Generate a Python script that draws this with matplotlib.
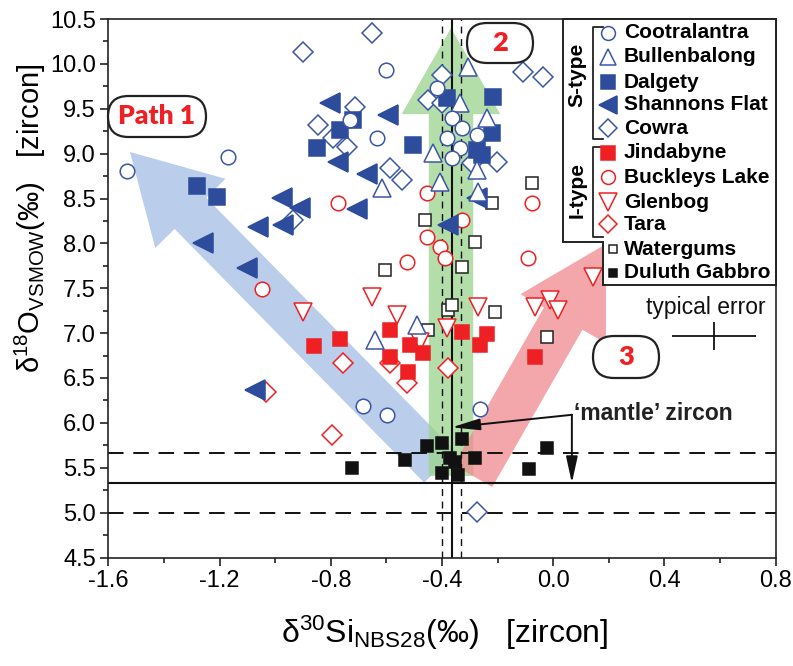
import matplotlib
matplotlib.use('Agg')
import matplotlib.pyplot as plt
import matplotlib.patches as mpatches
from matplotlib.ticker import MultipleLocator, FormatStrFormatter

plt.rcParams['font.family'] = ['Liberation Sans Narrow', 'Liberation Sans', 'DejaVu Sans']
plt.rcParams['axes.unicode_minus'] = False
plt.rcParams['mathtext.default'] = 'regular'

# ---------------- data ----------------
coot_x = [-1.534, -1.171, -0.602, -0.634, -0.732, -0.685, -0.599, -0.264, -0.365, -0.329, -0.275, -0.383, -0.336, -0.365, -0.419]
coot_y = [8.81, 8.96, 9.93, 9.17, 9.37, 6.19, 6.09, 6.16, 9.40, 9.29, 9.21, 9.17, 9.06, 8.95, 9.73]

bull_x = [-0.617, -0.642, -0.490, -0.307, -0.336, -0.239, -0.433, -0.275, -0.408, -0.271]
bull_y = [8.62, 6.92, 7.09, 9.97, 9.56, 9.40, 9.01, 8.82, 8.68, 8.57]

dalg_x = [-1.282, -1.210, -0.851, -0.721, -0.768, -0.505, -0.217, -0.220, -0.275, -0.257, -0.383]
dalg_y = [8.64, 8.52, 9.06, 9.37, 9.26, 9.10, 9.63, 9.23, 9.04, 8.98, 9.62]

shan_x = [-0.804, -0.595, -0.775, -0.670, -0.976, -0.912, -1.063, -0.973, -0.707, -1.261, -1.102, -1.074, -0.275, -0.379]
shan_y = [9.56, 9.43, 8.91, 8.77, 8.51, 8.39, 8.18, 8.20, 8.38, 8.00, 7.73, 6.37, 8.51, 8.20]

cowr_x = [-0.901, -0.653, -0.714, -0.847, -0.793, -0.742, -0.588, -0.937, -0.401, -0.451, -0.401, -0.109, -0.037, -0.293, -0.203, -0.544, -0.275]
cowr_y = [10.13, 10.34, 9.52, 9.32, 9.17, 9.07, 8.84, 8.26, 9.88, 9.60, 9.56, 9.91, 9.85, 8.90, 8.91, 8.71, 5.01]

jind_x = [-0.861, -0.768, -0.588, -0.588, -0.516, -0.469, -0.523, -0.329, -0.239, -0.264, -0.066]
jind_y = [6.86, 6.93, 7.03, 6.73, 6.87, 6.78, 6.57, 7.01, 6.99, 6.87, 6.73]

buck_x = [-0.775, -1.049, -0.455, -0.455, -0.408, -0.390, -0.329, -0.526, -0.077, -0.091]
buck_y = [8.45, 7.49, 8.56, 8.07, 7.96, 7.84, 8.26, 7.79, 8.45, 7.84]

glen_x = [-0.901, -0.653, -0.563, -0.480, -0.383, -0.271, -0.066, -0.012, 0.017, 0.143]
glen_y = [7.24, 7.40, 7.20, 6.90, 7.06, 7.29, 7.29, 7.37, 7.26, 7.63]

tara_x = [-0.757, -1.034, -0.796, -0.588, -0.526, -0.379]
tara_y = [6.67, 6.34, 5.86, 6.67, 6.44, 6.61]

watr_x = [-0.606, -0.462, -0.220, -0.077, -0.282, -0.329, -0.379, -0.365, -0.210, -0.451, -0.023]
watr_y = [7.70, 8.26, 8.45, 8.67, 8.02, 7.74, 7.26, 7.31, 7.24, 7.03, 6.96]

dulu_x = [-0.724, -0.534, -0.455, -0.401, -0.329, -0.372, -0.354, -0.401, -0.343, -0.282, -0.087, -0.023]
dulu_y = [5.50, 5.59, 5.74, 5.78, 5.82, 5.61, 5.56, 5.44, 5.42, 5.61, 5.49, 5.72]

# mantle zircon reference values
mantle_si = -0.365
mantle_si_lo, mantle_si_hi = -0.40, -0.33
mantle_o = 5.33
mantle_o_lo, mantle_o_hi = 5.0, 5.66

# typical error
err_x, err_y = 0.578, 6.97
err_dx, err_dy = 0.15, 0.155

x_ticks_major, x_ticks_minor = 0.4, 0.2
y_ticks_major, y_ticks_minor = 0.5, 0.25

BLUE = '#3a56a6'
BLUEF = '#2e4c9c'
RED = '#ee2024'
BLK = '#111111'

series = {
    'Cootralantra':  dict(x=coot_x, y=coot_y, marker='o', ms=10.5, mfc='white', mec=BLUE),
    'Bullenbalong':  dict(x=bull_x, y=bull_y, marker='^', ms=12.5, mfc='white', mec=BLUE),
    'Dalgety':       dict(x=dalg_x, y=dalg_y, marker='s', ms=11, mfc=BLUEF, mec=BLUEF),
    'Shannons Flat': dict(x=shan_x, y=shan_y, marker='<', ms=14, mfc=BLUEF, mec=BLUEF),
    'Cowra':         dict(x=cowr_x, y=cowr_y, marker='D', ms=10, mfc='white', mec=BLUE),
    'Jindabyne':     dict(x=jind_x, y=jind_y, marker='s', ms=10.5, mfc=RED, mec=RED),
    'Buckleys Lake': dict(x=buck_x, y=buck_y, marker='o', ms=10.5, mfc='white', mec=RED),
    'Glenbog':       dict(x=glen_x, y=glen_y, marker='v', ms=13, mfc='white', mec=RED),
    'Tara':          dict(x=tara_x, y=tara_y, marker='D', ms=10, mfc='white', mec=RED),
    'Watergums':     dict(x=watr_x, y=watr_y, marker='s', ms=9, mfc='white', mec='#222222'),
    'Duluth Gabbro': dict(x=dulu_x, y=dulu_y, marker='s', ms=8, mfc=BLK, mec=BLK),
}
legend_order = ['Cootralantra', 'Bullenbalong', 'Dalgety', 'Shannons Flat', 'Cowra',
                'Jindabyne', 'Buckleys Lake', 'Glenbog', 'Tara', 'Watergums', 'Duluth Gabbro']
draw_order = ['Duluth Gabbro', 'Watergums', 'Tara', 'Glenbog', 'Buckleys Lake', 'Jindabyne',
              'Cowra', 'Shannons Flat', 'Dalgety', 'Bullenbalong', 'Cootralantra']

# ---------------- figure ----------------
W, H = 793, 666
fig = plt.figure(figsize=(W / 100, H / 100), dpi=100)
AX_L, AX_R, AX_T, AX_B = 108.3, 775.7, 19.0, 557.5
ax = fig.add_axes([AX_L / W, 1 - AX_B / H, (AX_R - AX_L) / W, (AX_B - AX_T) / H])
ax.set_xlim(-1.6, 0.8)
ax.set_ylim(4.5, 10.5)

def P(px, py):
    """pixel position (from top-left) -> inches for fig.dpi_scale_trans"""
    return (px / 100.0, (H - py) / 100.0)

TI = fig.dpi_scale_trans

# big translucent path arrows (pixel geometry -> points)
def big_arrow(tail_px, tip_px, color, alpha):
    t = ax.transData.inverted()
    tail = t.transform((tail_px[0], H - tail_px[1]))
    tip = t.transform((tip_px[0], H - tip_px[1]))
    ax.annotate('', xy=tip, xytext=tail, xycoords='data', textcoords='data',
                arrowprops=dict(arrowstyle='simple,head_length=62,head_width=71,tail_width=32',
                                mutation_scale=1, fc=color, ec='none', alpha=alpha,
                                shrinkA=0, shrinkB=0),
                zorder=1, annotation_clip=False)

big_arrow((440, 467), (130, 152), '#a3bde4', 0.75)
big_arrow((451, 476), (451, 28), '#9ad48c', 0.75)
big_arrow((473, 476), (606, 244), '#f08a8e', 0.75)

# mantle reference lines
ax.axvline(mantle_si, color=BLK, lw=1.5, zorder=2)
for v in (mantle_si_lo, mantle_si_hi):
    ax.axvline(v, color=BLK, lw=1.0, ls=(0, (5, 4)), zorder=2)
ax.axhline(mantle_o, color=BLK, lw=1.5, zorder=2)
for v in (mantle_o_lo, mantle_o_hi):
    ax.axhline(v, color=BLK, lw=1.4, ls=(0, (8, 5)), zorder=2)

# data points
for name in draw_order:
    s = series[name]
    ax.plot(s['x'], s['y'], ls='none', marker=s['marker'], ms=s['ms'],
            mfc=s['mfc'], mec=s['mec'], mew=1.1, zorder=3, clip_on=False)

# typical error cross
ax.errorbar([err_x], [err_y], xerr=[err_dx], yerr=[err_dy], fmt='none',
            ecolor=BLK, elinewidth=1.3, capsize=0, zorder=4)
ax.text(0.549, 7.29, 'typical error', ha='center', va='center', fontsize=16.5,
        family=['Liberation Sans', 'DejaVu Sans'], color='#111111', zorder=4)

# 'mantle' zircon annotation
corner = (0.067, 6.09)
ax.annotate('', xy=(mantle_si, 5.95), xytext=corner,
            arrowprops=dict(arrowstyle='-|>,head_length=1.7,head_width=0.35', lw=1.4,
                            color=BLK, shrinkA=0, shrinkB=0), zorder=4)
ax.annotate('', xy=(corner[0], mantle_o), xytext=corner,
            arrowprops=dict(arrowstyle='-|>,head_length=1.6,head_width=0.35', lw=1.4,
                            color=BLK, shrinkA=0, shrinkB=0), zorder=4)
ax.text(0.075, 6.10, '\u2018mantle\u2019 zircon', ha='left', va='center', fontsize=16.5,
        fontweight='bold', family=['Liberation Sans', 'DejaVu Sans'], color='#222222', zorder=4)

# axes styling
for sp in ax.spines.values():
    sp.set_linewidth(1.2)
    sp.set_color('#222222')
ax.xaxis.set_major_locator(MultipleLocator(x_ticks_major))
ax.xaxis.set_minor_locator(MultipleLocator(x_ticks_minor))
ax.yaxis.set_major_locator(MultipleLocator(y_ticks_major))
ax.yaxis.set_minor_locator(MultipleLocator(y_ticks_minor))
ax.xaxis.set_major_formatter(FormatStrFormatter('%.1f'))
ax.yaxis.set_major_formatter(FormatStrFormatter('%.1f'))
ax.tick_params(which='both', direction='out', top=False, right=False, width=1.2, color='#222222')
ax.tick_params(which='major', length=6, labelsize=17, pad=3)
ax.tick_params(which='minor', length=3.5)

# axis labels
fig.text(445 / W, 1 - 633 / H, '\u03b4$^{30}$Si$_{NBS28}$(\u2030)   [zircon]', ha='center', va='center',
         fontsize=23)
fig.text(30 / W, 1 - 218 / H, '\u03b4$^{18}$O$_{VSMOW}$(\u2030)   [zircon]', ha='center', va='center',
         fontsize=21, rotation=90)

# path label pills
def pill(x0, y0, x1, y1, label, fs):
    w, h = (x1 - x0) / 100.0, (y1 - y0) / 100.0
    bx, by = P(x0, y1)
    box = mpatches.FancyBboxPatch((bx, by), w, h, boxstyle='round,pad=0,rounding_size=%f' % (h / 2),
                                  transform=TI, fc='white', ec='#222222', lw=1.6, zorder=6, clip_on=False)
    fig.add_artist(box)
    cx, cy = P((x0 + x1) / 2, (y0 + y1) / 2)
    fig.text(cx / (W / 100), cy / (H / 100), label, ha='center', va='center', fontsize=fs, color=RED,
             fontweight='heavy', family=['Lato', 'DejaVu Sans'], zorder=7)

pill(108, 96, 206, 137, 'Path 1', 19)
pill(467, 23, 533, 63, '2', 19.5)
pill(593, 336, 659, 378, '3', 19.5)

# legend box
poly = [P(563, 19), P(563, 242), P(603, 242), P(603, 285), P(776, 285), P(776, 19)]
fig.add_artist(mpatches.Polygon(poly, closed=True, transform=TI, fc='white', ec='#222222', lw=1.4,
                                zorder=8))
# brackets
for (ya, yb) in ((27, 139), (147, 237)):
    xs = [603, 593, 593, 603]
    ys = [ya, ya, yb, yb]
    pts = [P(a, b) for a, b in zip(xs, ys)]
    fig.add_artist(plt.Line2D([p[0] for p in pts], [p[1] for p in pts], transform=TI,
                              color='#222222', lw=1.3, zorder=9))
for label, yc in (('S-type', 75), ('I-type', 190)):
    cx, cy = P(577, yc)
    fig.text(cx / (W / 100), cy / (H / 100), label, rotation=90, ha='center', va='center', fontsize=15,
             fontweight='bold', family=['Liberation Sans', 'DejaVu Sans'], zorder=9)

row_y = [33, 57, 82, 105, 128, 153, 177, 202, 224, 249, 273]
for name, ry in zip(legend_order, row_y):
    s = series[name]
    small = name in ('Watergums', 'Duluth Gabbro')
    mx = 613 if small else 608
    ms = 6 if small else s['ms'] * 0.95
    mxp, myp = P(mx, ry)
    fig.add_artist(plt.Line2D([mxp], [myp], transform=TI, ls='none', marker=s['marker'], ms=ms,
                              mfc=s['mfc'], mec=s['mec'], mew=1.1, zorder=9))
    tx, ty = P(624, ry)
    fig.text(tx / (W / 100), ty / (H / 100), name, ha='left', va='center', fontsize=15,
             fontweight='bold', family=['Liberation Sans', 'DejaVu Sans'], zorder=9)

fig.savefig('out.png', dpi=100)
